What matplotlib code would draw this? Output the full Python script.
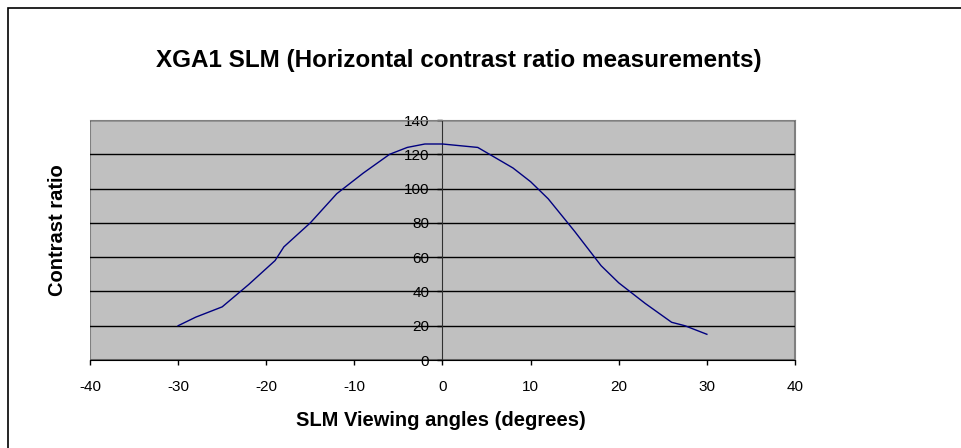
import matplotlib
matplotlib.use('Agg')
import matplotlib.pyplot as plt
from matplotlib.patches import Rectangle

# viewing angle (degrees) and measured contrast ratio
angles = [-30, -28, -25, -22, -19, -18, -15, -12, -9, -6, -4, -2, 0,
          4, 6, 8, 10, 12, 15, 18, 20, 23, 26, 27.5, 30]
contrast = [20, 25, 31, 44, 58, 66, 80, 97, 109, 120, 124, 126, 126,
            124, 118, 112, 104, 94, 75, 55, 45, 33, 22, 20, 15]

xticks = [-40, -30, -20, -10, 0, 10, 20, 30, 40]
yticks = [0, 20, 40, 60, 80, 100, 120, 140]

plt.rcParams['font.family'] = ['Liberation Sans', 'DejaVu Sans']
plt.rcParams['axes.unicode_minus'] = False

fig = plt.figure(figsize=(9.62, 4.48), dpi=100)
ax = fig.add_axes([90 / 962, 1 - 360 / 448, 705 / 962, 240 / 448])

ax.set_facecolor('#c0c0c0')
ax.plot(angles, contrast, color='#000080', linewidth=1.0, zorder=3)

ax.set_xlim(-40, 40)
ax.set_ylim(0, 140)
ax.set_xticks(xticks)
ax.set_yticks(yticks)
ax.tick_params(axis='both', labelsize=11, direction='out', length=3.5, width=1)
ax.tick_params(axis='y', pad=6)
ax.tick_params(axis='x', pad=11)

ax.spines['left'].set_position(('data', 0))
ax.spines['left'].set_color('#303030')
ax.spines['bottom'].set_color('black')
ax.spines['top'].set_color('#808080')
ax.spines['right'].set_color('#808080')
ax.add_patch(Rectangle((0, 0), 1, 1, transform=ax.transAxes, fill=False,
                       edgecolor='#808080', linewidth=1.5, zorder=0.5))

ax.yaxis.grid(True, color='black', linewidth=1.0)
ax.set_axisbelow(True)

fig.text(459 / 962, 1 - 60 / 448, 'XGA1 SLM (Horizontal contrast ratio measurements)',
         ha='center', va='center', fontsize=17.5, fontweight='bold')
fig.text(441 / 962, 1 - 420 / 448, 'SLM Viewing angles (degrees)',
         ha='center', va='center', fontsize=14.5, fontweight='bold')
fig.text(58 / 962, 1 - 230 / 448, 'Contrast ratio', rotation=90,
         ha='center', va='center', fontsize=14.5, fontweight='bold')

# chart frame (right and bottom edges fall outside the image)
fig.add_artist(Rectangle((8 / 962, -0.1), 1.2, 1.1 - 8 / 448, transform=fig.transFigure,
                         fill=False, edgecolor='black', linewidth=1.2))

fig.savefig('out.png', dpi=100)
